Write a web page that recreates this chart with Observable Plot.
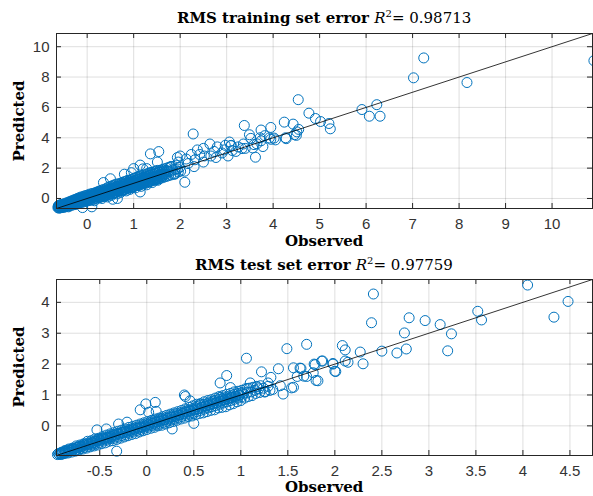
<!DOCTYPE html>
<html><head><meta charset="utf-8">
<script src="https://cdn.jsdelivr.net/npm/d3@7"></script>
<script src="https://cdn.jsdelivr.net/npm/@observablehq/plot@0.6"></script>
<style>
body{margin:0;background:#fff;}
#wrap{position:relative;width:593px;height:496px;overflow:hidden;background:#fff;}
.lbl{position:absolute;font-family:"DejaVu Serif",serif;font-weight:bold;font-size:15px;color:#000;line-height:20px;height:20px;white-space:nowrap;text-align:center;}
.lbl .m{font-weight:normal;}
.lbl sup{font-size:10px;line-height:0;vertical-align:6px;}
.panel{position:absolute;left:0;}
.panel g[aria-label$="tick label"]{font-size:15px !important;}
.yl{width:200px;transform:rotate(-90deg);}
</style></head>
<body><div id="wrap"></div>
<script>
// ---------- Training set ----------
const trainTitle = "RMS training set error";
const trainR2 = "0.98713";
const trainLimits = [-0.66, 10.87];
const trainXTicks = [0,1,2,3,4,5,6,7,8,9,10];
const trainYTicks = [0,2,4,6,8,10];

const trainBandObserved = [
 -0.63,-0.62,-0.61,-0.60, -0.59,-0.58,-0.57,-0.56, -0.55,-0.54,-0.53,-0.52, -0.51,-0.50,-0.49,-0.48,
 -0.47,-0.46,-0.45,-0.44, -0.43,-0.42,-0.41,-0.40, -0.39,-0.38,-0.37,-0.36, -0.35,-0.34,-0.33,-0.32,
 -0.31,-0.30,-0.29,-0.28, -0.27,-0.26,-0.25,-0.24, -0.23,-0.22,-0.21,-0.20, -0.19,-0.18,-0.17,-0.16,
 -0.15,-0.14,-0.13,-0.12, -0.11,-0.10,-0.09,-0.08, -0.07,-0.06,-0.05,-0.04, -0.03,-0.02,-0.01,0.00,
 0.01,0.02,0.03,0.04, 0.05,0.06,0.07,0.08, 0.09,0.10,0.11,0.12, 0.13,0.14,0.15,0.16,
 0.17,0.18,0.19,0.20, 0.21,0.22,0.23,0.24, 0.25,0.26,0.27,0.28, 0.29,0.30,0.31,0.32,
 0.33,0.34,0.35,0.36, 0.37,0.38,0.39,0.40, 0.41,0.42,0.43,0.44, 0.45,0.46,0.47,0.48,
 0.49,0.50,0.51,0.52, 0.53,0.54,0.55,0.56, 0.57,0.58,0.59,0.60, 0.61,0.62,0.63,0.64,
 0.65,0.66,0.67,0.68, 0.69,0.70,0.71,0.72, 0.73,0.74,0.75,0.76, 0.77,0.78,0.79,0.80,
 0.81,0.82,0.83,0.84, 0.85,0.86,0.87,0.88, 0.89,0.90,0.91,0.92, 0.93,0.94,0.95,0.96,
 0.97,0.98,0.99,1.00, 1.01,1.02,1.03,1.04, 1.05,1.06,1.07,1.08, 1.09,1.10,1.11,1.12,
 1.13,1.14,1.15,1.16, 1.17,1.18,1.19,1.20, 1.21,1.22,1.23,1.24, 1.25,1.26,1.27,1.28,
 1.29,1.30,1.31,1.32, 1.33,1.34,1.35,1.36, 1.37,1.38,1.39,1.40, 1.41,1.42,1.43,1.44,
 1.45,1.46,1.47,1.48, 1.49,1.50,1.51,1.52, 1.54,1.55,1.56,1.57, 1.59,1.60,1.61,1.62,
 1.64,1.65,1.66, 1.69,1.70,1.71, 1.74,1.75,1.76, 1.79,1.80,1.81, 1.84,1.86, 1.89,1.90,1.91,
 1.94,1.96, 1.99,2.01,
 -0.62,-0.62, -0.58,-0.58, -0.54,-0.54, -0.50,-0.50, -0.46,-0.46, -0.42,-0.42, -0.38,-0.38, -0.34,-0.34,
 -0.30,-0.30, -0.26,-0.26, -0.22,-0.22, -0.18,-0.18, -0.14,-0.14, -0.10,-0.10, -0.06,-0.06, -0.02,-0.02,
 0.02,0.02, 0.06,0.06, 0.10,0.10, 0.14,0.14, 0.18,0.18, 0.22,0.22, 0.26,0.26, 0.30,0.30,
 0.34,0.34, 0.38,0.38, 0.42,0.42, 0.46,0.46, 0.50,0.50, 0.54,0.54, 0.58,0.58, 0.62,0.62,
 0.66,0.66, 0.70,0.70, 0.74,0.74, 0.78,0.78, 0.82,0.82, 0.86,0.86, 0.90,0.90, 0.94,0.94,
 0.98,0.98, 1.02,1.02, 1.06,1.06, 1.10,1.10, 1.14,1.14, 1.18,1.18, 1.22,1.22, 1.26,1.26,
 1.30,1.30, 1.34,1.34, 1.38,1.38, 1.42,1.42, 1.46,1.46, 1.50,1.50, 1.55,1.55, 1.60,1.60,
 1.65,1.65, 1.70,1.70
];
const trainBandPredicted = [
 -0.60,-0.52,-0.64,-0.45, -0.55,-0.62,-0.40,-0.50, -0.50,-0.60,-0.38,-0.45, -0.45,-0.58,-0.35,-0.52,
 -0.42,-0.55,-0.30,-0.48, -0.38,-0.50,-0.25,-0.55, -0.35,-0.48,-0.20,-0.40, -0.30,-0.45,-0.15,-0.38,
 -0.25,-0.42,-0.10,-0.35, -0.20,-0.40,-0.05,-0.30, -0.18,-0.35,0.00,-0.28, -0.12,-0.30,0.05,-0.25,
 -0.10,-0.28,0.10,-0.20, -0.05,-0.25,0.12,-0.15, 0.00,-0.20,0.18,-0.10, 0.02,-0.18,0.20,-0.08,
 0.05,-0.15,0.25,-0.05, 0.10,-0.12,0.30,0.00, 0.12,-0.10,0.32,0.05, 0.15,-0.05,0.35,-0.15,
 0.20,0.00,0.40,0.10, 0.25,0.02,0.45,0.12, 0.28,0.05,0.50,0.15, 0.30,0.10,0.55,0.00,
 0.35,0.12,0.58,0.20, 0.40,0.15,0.62,0.25, 0.45,0.20,0.70,0.10, 0.48,0.25,0.75,0.30,
 0.50,0.30,0.80,0.20, 0.55,0.30,0.85,0.35, 0.60,0.35,0.90,0.40, 0.62,0.40,0.95,0.30,
 0.70,0.45,0.95,0.50, 0.72,0.50,1.00,0.40, 0.75,0.50,1.05,0.55, 0.80,0.55,1.10,0.60,
 0.85,0.60,1.12,0.50, 0.88,0.65,1.20,0.70, 0.92,0.70,1.20,0.60, 0.95,0.70,1.25,0.75,
 1.00,0.75,1.30,0.80, 1.02,0.80,1.35,0.70, 1.08,0.85,1.40,0.90, 1.10,0.85,1.45,0.95,
 1.15,0.90,1.50,0.80, 1.20,0.95,1.50,1.00, 1.22,1.00,1.55,1.05, 1.30,1.00,1.60,0.90,
 1.32,1.05,1.65,1.10, 1.35,1.10,1.70,1.15, 1.40,1.15,1.72,1.05, 1.45,1.20,1.75,1.25,
 1.48,1.20,1.80,1.30, 1.50,1.25,1.85,1.20, 1.55,1.30,1.85,1.40, 1.62,1.35,1.90,1.45,
 1.65,1.40,1.95, 1.72,1.45,2.00, 1.78,1.50,2.05, 1.80,1.55,2.10, 1.88,1.60, 1.92,1.65,2.20,
 1.95,1.75, 2.05,1.80,
 -0.56,-0.48, -0.58,-0.45, -0.42,-0.55, -0.40,-0.48, -0.36,-0.50, -0.32,-0.45, -0.28,-0.42, -0.25,-0.35,
 -0.18,-0.30, -0.12,-0.28, -0.10,-0.22, -0.05,-0.18, 0.00,-0.12, 0.05,-0.08, 0.08,-0.04, 0.10,0.00,
 0.15,0.02, 0.18,0.05, 0.22,0.10, 0.25,0.12, 0.30,0.15, 0.32,0.20, 0.38,0.22, 0.42,0.25,
 0.45,0.28, 0.50,0.32, 0.55,0.35, 0.60,0.40, 0.62,0.42, 0.68,0.45, 0.72,0.50, 0.78,0.52,
 0.80,0.58, 0.85,0.62, 0.90,0.65, 0.95,0.68, 0.98,0.72, 1.02,0.78, 1.05,0.80, 1.10,0.85,
 1.15,0.88, 1.18,0.92, 1.22,0.95, 1.28,1.00, 1.30,1.02, 1.35,1.08, 1.40,1.10, 1.42,1.15,
 1.48,1.18, 1.52,1.22, 1.55,1.28, 1.60,1.30, 1.65,1.35, 1.68,1.38, 1.72,1.45, 1.75,1.50,
 1.80,1.55, 1.85,1.60
];
const trainSparseObserved = [
 1.36,1.54,1.14,1.00,1.14,1.28,1.51,1.94,0.50,0.35,0.80,1.20,0.10,-0.10,0.55,0.65,0.95,
 2.28,2.10,2.64,3.06,3.09,3.36,3.33,3.56,3.74,2.80,2.37,2.42,2.50,2.90,2.95,3.03,2.66,2.24,2.00,
 1.96,2.17,2.10,2.30,2.50,2.77,1.80,1.88,2.32,2.13,2.52,3.20,3.40,3.65,3.95,2.97,2.73,
 3.38,3.49,3.52,3.82,4.02,4.27,3.62,3.78,3.95,3.74,4.24,4.43,4.51,4.55,4.46,4.28,4.05,3.92,
 3.12,3.10,3.25,3.59,3.72,
 4.54,4.77,4.91,5.02,5.20,5.23,4.50,
 5.91,6.23,6.07,6.30,7.02,7.24,8.17,10.90
];
const trainSparsePredicted = [
 2.94,3.09,0.43,1.97,2.20,1.97,2.40,2.70,1.30,1.05,1.60,1.95,-0.55,-0.60,-0.05,0.00,1.70,
 4.25,1.07,3.59,3.72,3.48,3.59,3.29,3.33,3.80,3.40,3.20,2.90,3.30,3.00,3.20,2.80,2.80,2.90,2.80,
 2.40,2.30,1.80,2.10,2.40,2.70,2.10,1.60,2.55,2.60,2.80,3.10,3.30,3.60,3.90,3.50,3.10,
 4.81,4.20,3.96,4.14,3.98,4.00,2.72,3.42,4.68,4.51,5.03,4.90,4.39,4.55,4.20,3.94,3.86,3.99,
 3.16,3.50,3.40,3.55,4.00,
 6.51,5.62,5.27,5.07,4.94,4.59,4.16,
 5.86,6.18,5.42,5.42,7.95,9.26,7.64,9.08
];

// ---------- Test set ----------
const testTitle = "RMS test set error";
const testR2 = "0.97759";
const testLimits = [-0.96, 4.74];
const testXTicks = [-0.5,0,0.5,1,1.5,2,2.5,3,3.5,4,4.5];
const testYTicks = [0,1,2,3,4];

const testBandObserved = [
 -0.93,-0.92,-0.91,-0.90, -0.89,-0.88,-0.87,-0.86, -0.85,-0.84,-0.83,-0.82, -0.81,-0.80,-0.79,-0.78,
 -0.77,-0.76,-0.75,-0.74, -0.73,-0.72,-0.71,-0.70, -0.69,-0.68,-0.67,-0.66, -0.65,-0.64,-0.63,-0.62,
 -0.61,-0.60,-0.59,-0.58, -0.57,-0.56,-0.55,-0.54, -0.53,-0.52,-0.51,-0.50, -0.49,-0.48,-0.47,-0.46,
 -0.45,-0.44,-0.43,-0.42, -0.41,-0.40,-0.39,-0.38, -0.37,-0.36,-0.35,-0.34, -0.33,-0.32,-0.31,-0.30,
 -0.29,-0.28,-0.27,-0.26, -0.25,-0.24,-0.23,-0.22, -0.21,-0.20,-0.19,-0.18, -0.17,-0.16,-0.15,-0.14,
 -0.13,-0.12,-0.11,-0.10, -0.09,-0.08,-0.07,-0.06, -0.05,-0.04,-0.03,-0.02, -0.01,0.00,0.01,0.02,
 0.03,0.04,0.05,0.06, 0.07,0.08,0.09,0.10, 0.11,0.12,0.13,0.14, 0.15,0.16,0.17,0.18,
 0.19,0.20,0.21,0.22, 0.23,0.24,0.25,0.26, 0.27,0.28,0.29,0.30, 0.31,0.32,0.33,0.34,
 0.35,0.36,0.37,0.38, 0.39,0.40,0.41,0.42, 0.43,0.44,0.45,0.46, 0.47,0.48,0.49,0.50,
 0.51,0.52,0.53,0.54, 0.55,0.56,0.57,0.58, 0.59,0.60,0.61,0.62, 0.63,0.64,0.65,0.66,
 0.67,0.68,0.69,0.70, 0.71,0.72,0.73,0.74, 0.75,0.76,0.77,0.78, 0.79,0.80,0.81,0.82,
 0.83,0.84,0.85,0.86, 0.87,0.88,0.89,0.90, 0.91,0.92,0.93,0.94, 0.95,0.96,0.97,0.98,
 0.99,1.00,1.01, 1.03,1.04,1.05, 1.07,1.08,1.09, 1.11,1.12,1.13, 1.15,1.16,1.17, 1.19,1.20,1.21,
 1.24,1.26, 1.29,1.31,
 -0.91,-0.91, -0.87,-0.87, -0.83,-0.83, -0.79,-0.79, -0.75,-0.75, -0.71,-0.71, -0.67,-0.67, -0.63,-0.63,
 -0.59,-0.59, -0.55,-0.55, -0.51,-0.51, -0.47,-0.47, -0.43,-0.43, -0.39,-0.39, -0.35,-0.35, -0.31,-0.31,
 -0.27,-0.27, -0.23,-0.23, -0.19,-0.19, -0.15,-0.15, -0.11,-0.11, -0.07,-0.07, -0.03,-0.03, 0.01,0.01,
 0.05,0.05, 0.09,0.09, 0.13,0.13, 0.17,0.17, 0.21,0.21, 0.25,0.25, 0.29,0.29, 0.33,0.33,
 0.37,0.37, 0.41,0.41, 0.45,0.45, 0.49,0.49, 0.53,0.53, 0.57,0.57, 0.61,0.61, 0.65,0.65,
 0.69,0.69, 0.73,0.73, 0.77,0.77, 0.81,0.81, 0.85,0.85, 0.89,0.89, 0.93,0.93, 0.97,0.97,
 1.01,1.01
];
const testBandPredicted = [
 -0.92,-0.88,-0.90,-0.85, -0.86,-0.90,-0.80,-0.84, -0.82,-0.88,-0.75,-0.80, -0.78,-0.85,-0.72,-0.76,
 -0.74,-0.82,-0.65,-0.70, -0.70,-0.78,-0.62,-0.68, -0.66,-0.75,-0.58,-0.62, -0.62,-0.72,-0.50,-0.60,
 -0.58,-0.68,-0.48,-0.55, -0.55,-0.65,-0.42,-0.50, -0.50,-0.62,-0.40,-0.45, -0.46,-0.58,-0.35,-0.42,
 -0.42,-0.55,-0.30,-0.38, -0.38,-0.50,-0.26,-0.34, -0.35,-0.48,-0.22,-0.30, -0.30,-0.44,-0.18,-0.26,
 -0.27,-0.40,-0.14,-0.22, -0.22,-0.36,-0.10,-0.18, -0.20,-0.32,-0.05,-0.15, -0.15,-0.28,-0.02,-0.10,
 -0.12,-0.25,0.02,-0.08, -0.08,-0.20,0.06,-0.04, -0.04,-0.16,0.10,0.00, 0.00,-0.12,0.14,0.05,
 0.04,-0.08,0.18,0.08, 0.08,-0.05,0.22,0.12, 0.12,0.00,0.25,0.15, 0.16,0.02,0.30,0.20,
 0.20,0.06,0.34,0.24, 0.24,0.10,0.38,0.28, 0.28,0.14,0.42,0.30, 0.32,0.18,0.46,0.35,
 0.36,0.22,0.50,0.40, 0.40,0.25,0.55,0.45, 0.44,0.30,0.60,0.48, 0.48,0.32,0.65,0.52,
 0.52,0.36,0.70,0.55, 0.56,0.40,0.72,0.60, 0.60,0.42,0.78,0.65, 0.64,0.46,0.82,0.68,
 0.68,0.50,0.85,0.72, 0.72,0.52,0.90,0.75, 0.76,0.58,0.95,0.80, 0.80,0.60,0.98,0.85,
 0.84,0.62,1.02,0.88, 0.88,0.68,1.05,0.92, 0.92,0.72,1.10,0.95, 0.96,0.78,1.12,1.00,
 1.00,0.82,1.15, 1.05,0.90,1.20, 1.08,0.95,1.22, 1.10,0.98,1.25, 1.15,1.05,1.28, 1.20,1.08,1.30,
 1.22,1.10, 1.28,1.15,
 -0.87,-0.93, -0.82,-0.88, -0.78,-0.85, -0.74,-0.80, -0.70,-0.78, -0.66,-0.74, -0.60,-0.70, -0.56,-0.66,
 -0.52,-0.62, -0.48,-0.58, -0.44,-0.55, -0.40,-0.50, -0.36,-0.46, -0.32,-0.42, -0.28,-0.40, -0.24,-0.36,
 -0.20,-0.32, -0.16,-0.28, -0.12,-0.24, -0.08,-0.20, -0.04,-0.16, 0.00,-0.12, 0.04,-0.08, 0.08,-0.04,
 0.12,0.00, 0.16,0.03, 0.20,0.06, 0.24,0.10, 0.28,0.14, 0.32,0.18, 0.36,0.22, 0.40,0.26,
 0.44,0.30, 0.48,0.34, 0.52,0.38, 0.56,0.42, 0.62,0.46, 0.66,0.50, 0.70,0.54, 0.74,0.58,
 0.78,0.62, 0.82,0.66, 0.86,0.70, 0.90,0.74, 0.94,0.78, 0.98,0.82, 1.02,0.86, 1.05,0.90,
 1.08,0.94
];
const testSparseObserved = [
 -0.95,-0.94,-0.53,-0.43,-0.30,-0.21,-0.32,-0.07,0.02,0.10,-0.01,0.09,0.40,0.41,0.27,0.50,
 0.78,0.85,1.06,1.22,1.40,1.32,1.49,1.70,1.56,1.64,1.78,1.87,1.98,2.00,1.80,1.56,1.45,1.70,1.60,
 1.29,1.17,1.10,1.25,1.42,1.34,1.07,0.89,0.89,0.78,0.71,0.57,0.46,
 4.05,4.48,4.33,3.52,3.56,2.41,2.39,2.79,2.96,3.12,3.24,3.20,2.74,2.76,2.66,2.50,2.27,2.30,
 2.08,2.11,2.11,2.14,1.98,2.01,1.86,1.79,1.77,1.82,1.67,1.63,1.54
];
const testSparsePredicted = [
 -0.93,-0.90,-0.13,-0.10,0.06,0.12,-0.82,0.52,0.44,0.47,0.71,0.76,1.00,0.95,-0.10,0.08,
 1.39,1.63,2.19,1.75,1.85,1.57,2.50,2.64,1.88,1.86,2.00,2.10,2.00,1.77,1.47,1.25,1.03,1.60,1.60,
 1.39,1.26,1.39,1.10,1.30,1.18,1.21,1.24,0.92,0.92,0.81,0.70,0.81,
 4.56,4.03,3.52,3.71,3.43,4.27,3.34,3.50,3.41,3.28,2.98,2.43,3.01,2.49,2.36,2.42,2.39,2.01,
 2.60,2.46,2.10,2.06,2.02,1.76,2.10,1.98,1.72,1.46,1.61,1.87,1.23
];

const toRows = (obs, pred) => obs.map((o, i) => ({observed: o, predicted: pred[i]}));
const trainData = toRows(trainBandObserved, trainBandPredicted).concat(toRows(trainSparseObserved, trainSparsePredicted));
const testData = toRows(testBandObserved, testBandPredicted).concat(toRows(testSparseObserved, testSparsePredicted));

const AX = "#262626";
const BLUE = "#0072BD";
const fmt = d => String(d);

function panel(data, limits, xticks, yticks, height, mt, mb) {
  const fh = height - mt - mb;
  return Plot.plot({
    width: 593, height,
    marginLeft: 56, marginRight: 1, marginTop: mt, marginBottom: mb,
    style: {fontFamily: "'Liberation Sans', Arial, sans-serif", fontSize: "15px", color: AX, background: "transparent", overflow: "visible"},
    x: {domain: limits},
    y: {domain: limits},
    marks: [
      Plot.gridX(xticks, {stroke: AX, strokeOpacity: 0.15}),
      Plot.gridY(yticks, {stroke: AX, strokeOpacity: 0.15}),
      Plot.axisX(xticks, {tickSize: 0, tickPadding: 10, tickFormat: fmt, label: null, fill: "#333"}),
      Plot.axisY(yticks, {tickSize: 0, tickPadding: 7, tickFormat: fmt, label: null, fill: "#333"}),
      Plot.tickX(xticks, {x: d => d, insetTop: fh - 5, stroke: AX}),
      Plot.tickX(xticks, {x: d => d, insetBottom: fh - 5, stroke: AX}),
      Plot.tickY(yticks, {y: d => d, insetRight: 536 - 5, stroke: AX}),
      Plot.tickY(yticks, {y: d => d, insetLeft: 536 - 5, stroke: AX}),
      Plot.dot(data, {x: "observed", y: "predicted", r: 5, stroke: BLUE, strokeWidth: 1, fill: "none"}),
      Plot.line(limits, {x: d => d, y: d => d, stroke: "#000", strokeWidth: 0.8}),
      Plot.frame({stroke: AX, strokeWidth: 1})
    ]
  });
}

const wrap = document.getElementById("wrap");
function addLabel(html, cx, cy, cls) {
  const d = document.createElement("div");
  d.className = "lbl" + (cls ? " " + cls : "");
  d.innerHTML = html;
  wrap.appendChild(d);
  if (cls === "yl") {
    d.style.left = (cx - 100) + "px";
    d.style.top = (cy - 10) + "px";
  } else {
    const w = d.offsetWidth;
    d.style.left = (cx - w / 2) + "px";
    d.style.top = (cy - 10) + "px";
  }
}

const p1 = panel(trainData, trainLimits, trainXTicks, trainYTicks, 250, 33, 42);
p1.classList.add("panel"); p1.style.top = "0px"; wrap.appendChild(p1);
const p2 = panel(testData, testLimits, testXTicks, testYTicks, 246, 29, 41);
p2.classList.add("panel"); p2.style.top = "250px"; wrap.appendChild(p2);

addLabel(`${trainTitle} <span class="m"><i>R</i><sup>2</sup>= ${trainR2}</span>`, 324, 18);
addLabel("Observed", 324, 241);
addLabel("Predicted", 19, 120.5, "yl");
addLabel(`${testTitle} <span class="m"><i>R</i><sup>2</sup>= ${testR2}</span>`, 324, 265);
addLabel("Observed", 324, 487);
addLabel("Predicted", 19, 367, "yl");
</script></body></html>
